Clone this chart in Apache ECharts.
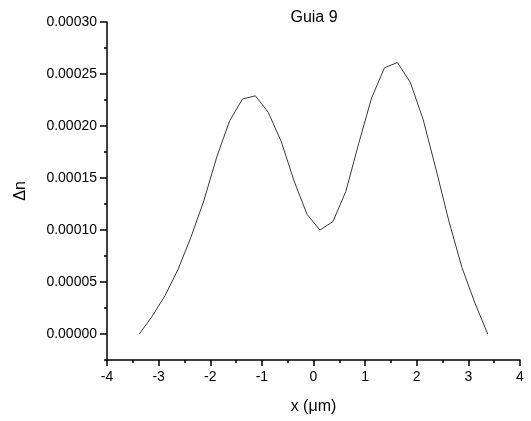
<!DOCTYPE html>
<html>
<head>
<meta charset="utf-8">
<script src="https://cdn.jsdelivr.net/npm/echarts@6/dist/echarts.min.js"></script>
<style>
  html, body { margin: 0; padding: 0; background: #fff; }
  #chart { width: 531px; height: 421px; }
</style>
</head>
<body>
<div id="chart"></div>
<script>
// x positions (um) and delta n
var xValues = [-3.375, -3.125, -2.875, -2.625, -2.375, -2.125, -1.875, -1.625, -1.375, -1.125,
               -0.875, -0.625, -0.375, -0.125, 0.125, 0.375, 0.625, 0.875, 1.125, 1.375,
               1.625, 1.875, 2.125, 2.375, 2.625, 2.875, 3.125, 3.375];
var dnValues = [0, 0.000017, 0.000037, 0.000062, 0.000093, 0.000128, 0.000170, 0.000205, 0.000226, 0.000229,
                0.000213, 0.000185, 0.000147, 0.000115, 0.000100, 0.000108, 0.000137, 0.000183, 0.000227, 0.000256,
                0.000261, 0.000242, 0.000206, 0.000158, 0.000108, 0.000064, 0.000030, 0];
var yMajorTicks = [0, 0.00005, 0.0001, 0.00015, 0.0002, 0.00025, 0.0003];
var yMinorTicks = [-0.000025, 0.000025, 0.000075, 0.000125, 0.000175, 0.000225, 0.000275];

var font = 'Liberation Sans, Arial, sans-serif';
var points = xValues.map(function (x, i) { return [x, dnValues[i]]; });

var chart = echarts.init(document.getElementById('chart'));
chart.setOption({
    animation: false,
    title: {
        text: 'Guia 9',
        left: 309, top: 5,
        textAlign: 'center',
        textStyle: { fontFamily: font, fontSize: 16, fontWeight: 'normal', color: '#000' }
    },
    grid: { left: 107, right: 11, top: 22, bottom: 61 },
    xAxis: {
        type: 'value',
        min: -4, max: 4, interval: 1,
        name: 'x (\u03bcm)',
        nameLocation: 'middle',
        nameGap: 39,
        nameTextStyle: { fontFamily: font, fontSize: 16, color: '#000' },
        axisLine: { onZero: false, lineStyle: { color: '#000', width: 1.5 } },
        axisTick: { inside: false, length: 6, lineStyle: { color: '#000', width: 1.5 } },
        minorTick: { show: true, splitNumber: 2, length: 3, lineStyle: { color: '#000', width: 1.5 } },
        axisLabel: { fontFamily: font, fontSize: 14, color: '#000', margin: 10 },
        splitLine: { show: false }
    },
    yAxis: [{
        type: 'value',
        min: -0.000025, max: 0.0003,
        name: '\u0394n',
        nameLocation: 'middle',
        nameGap: 78,
        nameTextStyle: { fontFamily: font, fontSize: 16, color: '#000' },
        axisLine: { onZero: false, lineStyle: { color: '#000', width: 1.5 } },
        axisTick: { inside: false, length: 7, customValues: yMajorTicks, lineStyle: { color: '#000', width: 1.5 } },
        axisLabel: {
            fontFamily: font, fontSize: 14, color: '#000', margin: 10,
            customValues: yMajorTicks,
            formatter: function (v) { return v.toFixed(5); }
        },
        splitLine: { show: false }
    }, {
        type: 'value',
        position: 'left',
        min: -0.000025, max: 0.0003,
        axisLine: { show: false, onZero: false },
        axisTick: { inside: false, length: 3, customValues: yMinorTicks, lineStyle: { color: '#000', width: 1.5 } },
        axisLabel: { show: false },
        splitLine: { show: false }
    }],
    series: [{
        type: 'line',
        data: points,
        showSymbol: false,
        lineStyle: { color: '#3a3a3a', width: 1 }
    }]
});
</script>
</body>
</html>
